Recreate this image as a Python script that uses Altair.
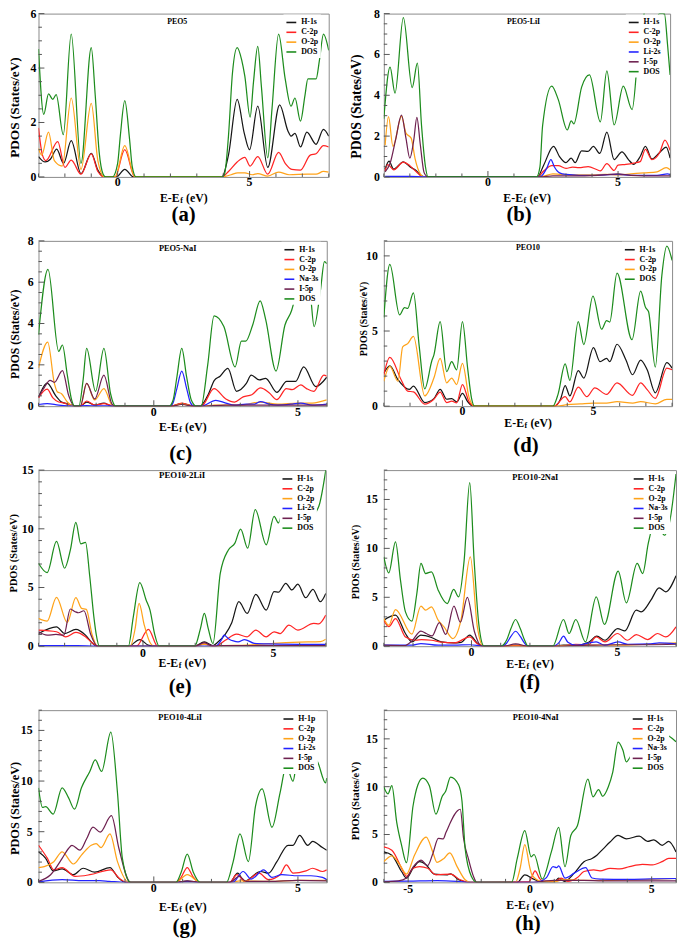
import altair as alt
import pandas as pd

FONT = "Liberation Serif"
COL = {"H-1s": "#161616", "H-1p": "#161616", "C-2p": "#ff2424", "O-2p": "#ffa31a",
       "Li-2s": "#2222ff", "Na-3s": "#2222ff", "I-5p": "#6e2150", "DOS": "#1d8c1d"}

# ---------------- (a) PEO5 ----------------
A_H1S = [(-3.0,0.75),(-2.75,0.55),(-2.55,0.65),(-2.31,1.02),(-2.05,0.5),(-1.76,1.33),(-1.39,0.12),(-1.0,0.87),(-0.75,0.25),(-0.5,0.0),(-0.05,0.0),(0.27,0.28),(0.6,0.0),(3.95,0.0),(4.2,0.8),(4.53,2.85),(4.8,1.6),(5.0,1.0),(5.31,2.6),(5.69,0.35),(6.14,2.65),(6.45,1.7),(6.57,1.5),(6.72,1.6),(6.93,1.1),(7.17,1.65),(7.52,1.2),(7.8,1.75),(8.0,1.5)]
A_C2P = [(-3.0,1.8),(-2.85,0.8),(-2.72,0.6),(-2.27,1.3),(-2.0,0.35),(-1.76,0.62),(-1.39,0.1),(-1.0,0.85),(-0.75,0.2),(-0.5,0.0),(-0.1,0.0),(0.27,1.0),(0.65,0.0),(3.95,0.0),(4.2,0.2),(4.53,0.55),(4.82,0.72),(5.02,0.4),(5.31,0.75),(5.69,0.1),(6.1,0.9),(6.35,0.5),(6.6,0.28),(6.93,0.25),(7.3,0.8),(7.52,0.85),(7.8,1.15),(8.0,1.1)]
A_O2P = [(-3.0,1.05),(-2.88,0.8),(-2.62,1.65),(-2.4,0.6),(-2.1,0.4),(-1.76,2.9),(-1.39,0.28),(-1.0,2.7),(-0.75,0.6),(-0.5,0.0),(-0.1,0.0),(0.27,1.15),(0.65,0.0),(3.95,0.0),(4.3,0.08),(4.55,0.15),(4.82,0.15),(5.1,0.08),(5.31,0.12),(5.69,0.03),(6.1,0.18),(6.5,0.08),(7.2,0.1),(7.52,0.1),(7.8,0.2),(8.0,0.18)]
A_DOS = [(-3.0,4.7),(-2.8,2.3),(-2.62,3.05),(-2.46,2.85),(-2.33,3.02),(-2.06,1.55),(-1.76,5.25),(-1.39,0.5),(-1.0,4.75),(-0.85,3.0),(-0.7,0.9),(-0.55,0.1),(-0.45,0.0),(-0.2,0.0),(0.0,0.5),(0.1,1.5),(0.27,2.8),(0.45,1.4),(0.55,0.4),(0.7,0.0),(3.95,0.0),(4.05,0.1),(4.2,1.5),(4.35,3.8),(4.53,4.75),(4.7,4.3),(4.82,3.7),(5.02,2.2),(5.15,3.5),(5.31,4.8),(5.45,3.3),(5.69,0.7),(5.85,2.5),(6.1,5.25),(6.35,3.6),(6.57,2.6),(6.72,2.9),(6.93,2.05),(7.1,3.0),(7.21,3.6),(7.52,3.6),(7.65,4.3),(7.8,5.25),(8.0,4.65)]

# ---------------- (b) PEO5-LiI ----------------
B_H1S = [(-3.95,0.38),(-3.8,0.77),(-3.62,0.38),(-3.25,0.74),(-3.0,0.5),(-2.75,0.3),(-2.55,0.05),(-2.4,0.0),(1.9,0.0),(2.15,0.6),(2.52,1.5),(2.75,1.0),(3.0,0.7),(3.2,0.92),(3.35,0.7),(3.6,1.28),(3.85,1.25),(4.05,1.5),(4.3,1.15),(4.57,2.2),(4.85,0.85),(5.15,1.23),(5.4,0.85),(5.6,0.62),(5.85,1.0),(6.05,1.5),(6.3,0.88),(6.6,1.2),(6.85,1.46),(7.0,0.92)]
B_C2P = [(-3.95,0.3),(-3.85,0.6),(-3.62,0.35),(-3.25,0.72),(-3.0,0.55),(-2.75,0.25),(-2.55,0.03),(-2.4,0.0),(1.9,0.0),(2.15,0.3),(2.45,0.55),(2.7,0.55),(3.0,0.42),(3.25,0.48),(3.5,0.45),(3.85,0.5),(4.2,0.35),(4.32,0.3),(4.57,0.65),(4.85,0.32),(5.0,0.58),(5.3,0.62),(5.6,0.68),(5.85,0.75),(6.05,1.35),(6.3,0.85),(6.6,1.2),(6.8,1.8),(7.0,1.3)]
B_O2P = [(-3.95,1.55),(-3.82,2.95),(-3.65,1.5),(-3.32,2.97),(-3.15,2.15),(-2.95,1.9),(-2.8,0.9),(-2.6,0.15),(-2.45,0.0),(2.0,0.0),(2.5,0.15),(2.8,0.12),(3.5,0.1),(4.0,0.1),(4.5,0.12),(5.0,0.1),(5.5,0.15),(6.0,0.2),(6.5,0.25),(6.85,0.45),(7.0,0.35)]
B_LI2S = [(-3.95,0.03),(-3.0,0.03),(-2.4,0.0),(2.0,0.0),(2.25,0.4),(2.42,0.85),(2.55,0.5),(2.75,0.2),(3.0,0.12),(3.5,0.08),(4.0,0.08),(4.5,0.1),(5.0,0.12),(5.5,0.08),(6.0,0.08),(6.5,0.08),(6.9,0.15),(7.0,0.12)]
B_I5P = [(-3.95,0.25),(-3.75,0.7),(-3.55,1.8),(-3.32,3.03),(-3.15,1.9),(-3.0,0.92),(-2.85,1.8),(-2.73,2.92),(-2.6,1.6),(-2.45,0.2),(-2.3,0.0),(2.0,0.0),(2.5,0.05),(3.5,0.05),(4.5,0.1),(5.0,0.15),(5.5,0.08),(6.5,0.05),(7.0,0.05)]
B_DOS = [(-4.0,2.85),(-3.76,5.38),(-3.57,4.1),(-3.25,7.8),(-2.91,4.38),(-2.71,5.57),(-2.55,2.5),(-2.4,0.5),(-2.3,0.0),(1.87,0.0),(2.0,0.5),(2.1,2.5),(2.45,4.45),(2.7,3.8),(3.05,2.3),(3.2,2.75),(3.3,2.6),(3.6,4.4),(3.9,5.0),(4.32,2.7),(4.57,5.2),(4.85,2.55),(5.2,4.45),(5.54,3.3),(5.8,6.5),(6.0,8.2),(6.15,6.5),(6.27,5.1),(6.45,7.5),(6.6,8.8),(6.78,8.1),(6.9,6.5),(7.0,5.0)]

# ---------------- (c) PEO5-NaI ----------------
C_H1S = [(-4.0,0.42),(-3.7,1.12),(-3.4,0.5),(-3.2,0.2),(-2.9,0.08),(-2.75,0.0),(-2.55,0.0),(-2.33,0.2),(-2.05,0.05),(-1.73,0.15),(-1.5,0.02),(-1.32,0.0),(0.6,0.0),(0.97,0.12),(1.4,0.0),(1.6,0.0),(1.9,0.6),(2.1,1.25),(2.3,1.45),(2.57,1.83),(2.87,0.72),(3.21,1.1),(3.38,1.5),(3.66,1.27),(3.88,1.35),(4.27,0.67),(4.61,1.2),(4.92,1.2),(5.2,1.9),(5.62,0.95),(6.0,1.4)]
C_C2P = [(-4.0,0.4),(-3.7,0.82),(-3.5,0.4),(-3.3,0.2),(-3.1,0.15),(-2.9,0.05),(-2.75,0.0),(-2.55,0.0),(-2.33,0.25),(-2.05,0.05),(-1.73,0.12),(-1.35,0.0),(0.6,0.0),(0.97,0.15),(1.4,0.0),(1.65,0.0),(2.09,0.85),(2.5,0.35),(2.8,0.2),(3.1,0.45),(3.4,0.55),(3.7,0.88),(4.0,0.65),(4.27,0.32),(4.6,0.85),(4.8,0.8),(5.1,1.03),(5.3,0.85),(5.55,0.72),(5.9,1.5),(6.0,1.45)]
C_O2P = [(-4.0,1.85),(-3.68,3.1),(-3.45,1.1),(-3.35,0.7),(-3.2,0.6),(-3.0,0.2),(-2.75,0.0),(-2.55,0.0),(-2.33,1.1),(-2.05,0.3),(-1.73,0.85),(-1.45,0.05),(-1.32,0.0),(0.6,0.0),(0.97,0.1),(1.4,0.0),(1.65,0.0),(2.1,0.05),(2.5,0.05),(3.0,0.05),(3.7,0.2),(4.3,0.1),(5.0,0.15),(5.5,0.15),(6.0,0.3)]
C_NA3S = [(-4.0,0.08),(-3.7,0.12),(-3.3,0.05),(-2.75,0.0),(-2.33,0.03),(-2.0,0.01),(-1.73,0.02),(-1.32,0.0),(0.55,0.0),(0.67,0.17),(0.8,0.85),(0.97,1.7),(1.14,0.85),(1.27,0.17),(1.4,0.0),(1.65,0.0),(2.15,0.28),(2.5,0.15),(2.8,0.05),(3.2,0.1),(3.5,0.1),(3.7,0.22),(4.0,0.1),(4.3,0.05),(4.8,0.1),(5.1,0.15),(5.5,0.05),(6.0,0.1)]
C_I5P = [(-4.0,0.45),(-3.8,0.9),(-3.6,1.25),(-3.45,1.15),(-3.17,1.72),(-2.95,0.5),(-2.75,0.0),(-2.55,0.0),(-2.33,1.1),(-2.05,0.35),(-1.73,1.5),(-1.45,0.1),(-1.32,0.0),(0.6,0.0),(0.97,0.08),(1.4,0.0),(1.65,0.0),(2.5,0.05),(4.0,0.05),(6.0,0.05)]
C_DOS = [(-4.0,3.46),(-3.67,6.62),(-3.3,2.65),(-3.17,2.96),(-3.0,1.5),(-2.85,0.3),(-2.75,0.0),(-2.6,0.0),(-2.45,1.3),(-2.33,2.8),(-2.02,0.72),(-1.73,2.8),(-1.5,0.6),(-1.32,0.0),(0.53,0.0),(0.67,0.3),(0.8,1.4),(0.97,2.8),(1.14,1.4),(1.3,0.3),(1.48,0.0),(1.64,0.0),(1.87,2.0),(2.09,4.37),(2.43,3.85),(2.82,1.9),(3.04,3.15),(3.19,3.15),(3.43,3.93),(3.69,5.1),(3.88,4.2),(4.24,1.7),(4.55,3.93),(4.78,4.63),(4.94,5.5),(5.15,7.0),(5.3,7.3),(5.45,5.2),(5.56,3.85),(5.78,5.6),(5.92,7.0),(6.0,6.9)]

# ---------------- (d) PEO10 ----------------
D_H1S = [(-3.0,2.2),(-2.77,2.68),(-2.46,1.76),(-2.03,1.11),(-1.87,1.33),(-1.44,0.24),(-1.09,0.5),(-0.85,1.11),(-0.6,0.46),(-0.41,0.5),(-0.22,0.28),(0.0,0.85),(0.2,0.3),(0.4,0.0),(3.51,0.0),(3.75,0.5),(3.92,1.37),(4.1,0.68),(4.42,2.37),(4.63,1.87),(5.0,3.9),(5.25,2.96),(5.5,3.18),(5.62,2.96),(5.9,4.12),(6.24,3.07),(6.49,2.09),(6.8,3.07),(7.05,2.42),(7.36,0.89),(7.8,2.9),(8.0,2.53)]
D_C2P = [(-3.0,2.1),(-2.77,3.25),(-2.34,1.76),(-2.09,1.0),(-1.87,0.95),(-1.44,0.13),(-1.09,0.46),(-0.85,0.94),(-0.6,0.24),(-0.41,0.33),(-0.22,0.22),(0.0,1.44),(0.25,0.3),(0.46,0.0),(3.5,0.0),(3.92,0.63),(4.1,0.28),(4.42,1.26),(4.75,0.63),(5.05,1.22),(5.5,0.78),(5.9,1.55),(6.49,0.72),(6.8,1.55),(7.05,1.1),(7.36,0.52),(7.8,2.53),(8.0,2.42)]
D_O2P = [(-3.0,1.66),(-2.77,2.64),(-2.46,1.66),(-2.28,3.94),(-2.09,4.16),(-1.87,4.64),(-1.44,0.68),(-1.09,1.87),(-0.85,3.18),(-0.6,1.55),(-0.41,1.87),(-0.22,1.44),(0.0,2.85),(0.25,0.6),(0.46,0.0),(3.6,0.0),(4.0,0.1),(4.5,0.15),(5.0,0.2),(5.5,0.2),(5.9,0.3),(6.5,0.2),(6.8,0.3),(7.36,0.15),(7.8,0.45),(8.0,0.45)]
D_DOS = [(-3.0,5.9),(-2.77,9.43),(-2.4,6.08),(-2.21,6.56),(-2.09,6.5),(-1.87,7.54),(-1.65,4.0),(-1.44,1.15),(-1.16,3.07),(-1.09,3.4),(-0.85,5.62),(-0.6,2.3),(-0.41,2.96),(-0.22,2.42),(0.0,5.62),(0.2,2.5),(0.35,0.5),(0.46,0.0),(3.45,0.0),(3.65,0.8),(3.92,2.81),(4.1,1.72),(4.42,5.62),(4.63,4.1),(4.98,7.32),(5.31,5.12),(5.5,5.69),(5.62,5.6),(5.9,8.85),(6.47,4.42),(6.8,7.65),(6.99,6.56),(7.1,6.3),(7.36,2.6),(7.61,8.7),(7.8,10.65),(8.0,9.7)]

# ---------------- (e) PEO10-2LiI ----------------
E_H1S = [(-4.0,1.08),(-3.31,1.65),(-3.0,1.08),(-2.57,1.43),(-2.2,0.94),(-1.95,0.3),(-1.79,0.0),(-0.56,0.0),(-0.12,0.57),(0.19,0.1),(0.43,0.0),(1.98,0.0),(2.35,0.37),(2.68,0.05),(2.84,0.3),(3.15,1.0),(3.4,2.0),(3.67,3.79),(3.99,2.79),(4.32,4.42),(4.72,3.08),(5.02,4.65),(5.19,4.6),(5.47,5.36),(5.7,4.79),(5.93,5.28),(6.23,4.13),(6.51,4.85),(6.79,3.79),(7.0,4.5)]
E_C2P = [(-4.0,1.37),(-3.31,1.23),(-2.96,0.8),(-2.57,1.17),(-2.2,0.8),(-1.95,0.3),(-1.74,0.0),(-0.25,0.0),(0.21,1.43),(0.56,0.0),(1.98,0.0),(2.35,0.2),(2.68,0.0),(2.78,0.0),(3.15,0.5),(3.58,1.03),(3.99,0.8),(4.32,1.37),(4.72,0.8),(5.02,1.23),(5.25,1.08),(5.59,1.8),(5.93,1.37),(6.54,1.94),(6.73,1.9),(7.0,2.65)]
E_O2P = [(-4.0,2.37),(-3.67,2.14),(-3.31,4.16),(-2.9,2.02),(-2.57,4.13),(-2.35,3.22),(-2.17,3.14),(-1.95,1.0),(-1.74,0.0),(-0.49,0.0),(-0.3,1.5),(-0.15,3.65),(0.05,1.8),(0.25,0.4),(0.43,0.0),(1.98,0.0),(2.35,0.15),(2.68,0.0),(3.0,0.05),(4.0,0.1),(5.0,0.25),(6.0,0.35),(6.8,0.4),(7.0,0.6)]
E_LI2S = [(-4.0,0.05),(-2.5,0.05),(-1.79,0.0),(2.78,0.0),(3.02,0.6),(3.1,0.94),(3.3,0.6),(3.46,0.45),(3.64,0.37),(3.89,0.57),(4.26,0.25),(4.8,0.2),(7.0,0.15)]
E_I5P = [(-4.0,1.23),(-3.67,0.94),(-3.33,1.0),(-3.03,0.94),(-2.78,3.17),(-2.6,2.94),(-2.47,2.85),(-2.26,3.02),(-2.0,1.0),(-1.74,0.0),(1.98,0.0),(2.35,0.3),(2.68,0.0),(3.0,0.05),(7.0,0.05)]
E_DOS = [(-4.0,7.07),(-3.67,6.27),(-3.31,8.92),(-3.0,6.64),(-2.78,8.2),(-2.57,10.55),(-2.38,8.72),(-2.2,8.84),(-2.04,6.0),(-1.88,2.5),(-1.79,1.0),(-1.67,0.0),(-0.56,0.0),(-0.37,2.5),(-0.12,5.42),(0.12,3.94),(0.27,3.08),(0.45,1.0),(0.62,0.0),(1.98,0.0),(2.2,1.5),(2.35,2.79),(2.5,1.5),(2.68,0.23),(2.96,6.2),(3.27,8.2),(3.52,8.78),(3.74,9.98),(4.01,8.35),(4.3,11.63),(4.72,8.64),(5.02,11.06),(5.19,10.5),(5.28,11.0),(5.6,12.0),(6.0,11.5),(6.4,11.0),(6.73,11.9),(7.0,15.0)]

# ---------------- (f) PEO10-2NaI ----------------
F_H1S = [(-3.0,2.66),(-2.6,3.17),(-2.26,1.3),(-2.04,0.44),(-1.73,1.13),(-1.37,0.89),(-1.03,0.44),(-0.61,0.34),(-0.35,0.4),(-0.06,1.13),(0.2,0.3),(0.43,0.0),(1.1,0.0),(1.51,0.1),(1.94,0.0),(2.78,0.0),(3.15,0.1),(3.57,0.1),(4.01,0.4),(4.29,1.02),(4.57,0.61),(5.0,1.8),(5.25,1.57),(5.64,3.68),(5.81,3.51),(6.14,4.7),(6.42,5.97),(6.65,5.56),(7.0,7.2)]
F_C2P = [(-3.0,2.66),(-2.83,2.0),(-2.6,2.83),(-2.26,0.95),(-1.9,0.61),(-1.71,0.68),(-1.37,0.61),(-1.03,0.41),(-0.58,0.34),(-0.06,0.95),(0.2,0.25),(0.43,0.0),(1.1,0.0),(1.51,0.05),(1.94,0.0),(2.78,0.0),(3.15,0.05),(3.57,0.2),(4.0,0.15),(4.27,0.95),(4.57,0.44),(5.0,1.3),(5.34,0.61),(5.64,1.19),(6.03,0.68),(6.37,1.3),(6.65,0.95),(7.0,1.98)]
F_O2P = [(-3.0,2.83),(-2.83,2.15),(-2.6,3.75),(-2.04,1.23),(-1.73,4.09),(-1.57,3.68),(-1.37,4.02),(-1.14,2.66),(-0.94,1.98),(-0.64,0.78),(-0.36,2.66),(-0.04,9.14),(0.2,2.0),(0.4,0.0),(2.78,0.0),(3.0,0.05),(4.3,0.1),(5.0,0.1),(6.0,0.2),(6.5,0.25),(7.0,0.35)]
F_NA3S = [(-3.0,0.1),(-2.04,0.1),(-1.73,0.27),(-1.14,0.1),(-0.58,0.1),(-0.06,0.15),(0.43,0.0),(1.04,0.0),(1.2,0.3),(1.35,1.0),(1.51,1.53),(1.67,1.0),(1.82,0.3),(1.94,0.0),(2.78,0.0),(3.0,0.4),(3.15,1.02),(3.3,0.4),(3.57,0.1),(4.27,0.44),(4.55,0.1),(5.02,0.44),(5.35,0.2),(6.14,0.25),(6.42,0.35),(7.0,0.25)]
F_I5P = [(-3.0,0.1),(-2.3,0.05),(-2.05,0.5),(-1.73,1.55),(-1.55,1.3),(-1.35,1.05),(-1.1,2.42),(-0.88,1.2),(-0.6,4.1),(-0.38,2.45),(-0.14,4.98),(0.1,1.5),(0.35,0.0),(1.1,0.0),(1.51,0.25),(1.94,0.0),(2.78,0.0),(4.0,0.1),(5.0,0.15),(6.0,0.15),(7.0,0.2)]
F_DOS = [(-3.0,9.14),(-2.83,7.5),(-2.6,10.67),(-2.43,6.75),(-2.26,3.51),(-2.04,2.56),(-1.87,5.39),(-1.73,8.46),(-1.57,7.43),(-1.37,7.6),(-1.14,5.73),(-0.83,4.36),(-0.61,5.8),(-0.44,5.05),(-0.25,8.8),(-0.06,16.71),(0.09,8.8),(0.26,2.0),(0.43,0.0),(0.99,0.0),(1.2,0.6),(1.35,1.8),(1.51,2.73),(1.67,1.8),(1.82,0.6),(1.94,0.0),(2.78,0.0),(3.15,2.73),(3.34,1.3),(3.57,2.73),(3.9,0.44),(4.27,5.05),(4.55,2.22),(5.02,7.67),(5.3,4.43),(5.67,8.46),(5.86,7.43),(6.05,10.5),(6.3,12.9),(6.6,11.35),(6.8,13.0),(7.0,17.6)]

# ---------------- (g) PEO10-4LiI ----------------
G_H1P = [(-4.0,3.01),(-3.75,2.36),(-3.49,1.13),(-3.18,1.33),(-2.79,0.75),(-2.45,1.39),(-2.05,1.0),(-1.52,1.46),(-1.25,0.5),(-0.98,0.0),(0.77,0.0),(1.16,0.13),(1.61,0.0),(2.63,0.0),(2.91,0.91),(3.14,0.1),(3.7,1.07),(3.98,0.9),(4.27,2.04),(4.66,3.66),(4.83,3.66),(5.06,4.63),(5.34,3.66),(5.51,4.05),(5.85,3.43),(6.0,3.17)]
G_C2P = [(-4.0,3.66),(-3.69,2.36),(-3.47,1.23),(-3.18,1.46),(-2.73,0.58),(-2.22,0.75),(-1.49,1.23),(-1.2,0.4),(-0.93,0.0),(0.77,0.0),(0.95,0.5),(1.16,1.46),(1.37,0.5),(1.61,0.0),(2.63,0.0),(2.88,0.75),(3.17,0.1),(3.65,0.9),(3.98,0.26),(4.38,0.75),(4.6,1.72),(4.83,0.9),(5.28,1.13),(5.51,1.39),(5.85,1.07),(6.0,1.23)]
G_O2P = [(-4.0,1.46),(-3.8,1.55),(-3.47,2.04),(-3.18,3.01),(-2.79,1.81),(-2.51,2.69),(-2.17,3.66),(-2.0,3.82),(-1.83,3.43),(-1.52,4.79),(-1.26,2.04),(-0.87,0.0),(0.77,0.0),(1.16,0.75),(1.61,0.0),(2.63,0.0),(3.0,0.15),(4.0,0.1),(5.0,0.2),(6.0,0.2)]
G_LI2S = [(-4.0,0.05),(-3.18,0.26),(-2.45,0.16),(-1.88,0.16),(-1.55,0.1),(-0.98,0.0),(0.77,0.0),(1.16,0.05),(1.61,0.0),(2.74,0.0),(3.1,1.07),(3.38,0.32),(3.81,1.23),(4.1,0.5),(4.44,0.75),(5.0,0.65),(5.45,0.65),(5.85,0.49),(6.0,0.26)]
G_I5P = [(-4.0,0.1),(-3.58,0.75),(-3.18,2.36),(-2.96,3.34),(-2.84,3.66),(-2.56,3.17),(-2.33,4.3),(-2.11,5.44),(-1.86,4.96),(-1.47,6.58),(-1.21,3.34),(-0.81,0.0),(0.77,0.0),(1.16,0.15),(1.61,0.0),(2.63,0.0),(2.97,0.6),(3.2,0.1),(4.0,0.1),(5.0,0.2),(6.0,0.15)]
G_DOS = [(-4.0,9.33),(-3.86,7.39),(-3.75,7.48),(-3.49,6.74),(-3.18,9.33),(-2.96,8.36),(-2.75,7.22),(-2.51,9.33),(-2.22,10.95),(-2.03,12.08),(-1.81,10.95),(-1.49,14.84),(-1.26,8.84),(-1.09,2.36),(-0.81,0.0),(0.77,0.0),(0.95,1.0),(1.16,2.79),(1.37,1.0),(1.61,0.0),(2.52,0.0),(2.75,2.0),(2.99,4.79),(3.28,2.04),(3.53,7.55),(3.76,9.23),(4.1,5.44),(4.38,8.84),(4.6,11.5),(4.83,9.98),(4.94,11.6),(5.2,13.5),(5.5,12.5),(5.68,11.9),(5.96,9.82),(6.0,10.3)]

# ---------------- (h) PEO10-4NaI ----------------
H_H1S = [(-6.0,3.18),(-5.67,2.84),(-5.27,1.13),(-5.07,0.45),(-4.8,1.47),(-4.53,2.16),(-4.26,1.82),(-3.93,0.86),(-3.39,0.79),(-3.26,0.89),(-2.93,0.27),(-2.46,0.0),(-0.52,0.0),(-0.21,0.79),(0.15,0.34),(0.48,0.05),(1.02,0.05),(1.18,0.45),(1.42,0.1),(1.82,0.96),(2.22,2.16),(2.55,2.5),(2.75,2.84),(3.02,3.53),(3.29,4.21),(3.62,4.9),(3.96,4.55),(4.49,4.83),(4.83,4.28),(5.09,4.45),(5.43,3.87),(5.7,4.28),(6.0,3.18)]
H_C2P = [(-6.0,3.7),(-5.67,3.36),(-5.2,1.13),(-5.07,0.62),(-4.8,1.47),(-4.53,1.64),(-4.2,1.47),(-3.86,0.79),(-3.26,0.86),(-2.86,0.27),(-2.46,0.0),(-0.05,0.05),(0.05,0.4),(0.21,1.2),(0.4,0.4),(0.55,0.1),(1.02,0.1),(1.28,0.45),(1.55,0.1),(1.95,0.5),(2.22,1.13),(2.62,1.3),(2.88,1.2),(3.29,1.47),(3.69,1.4),(4.09,1.64),(4.62,1.88),(5.03,1.82),(5.43,2.16),(5.7,2.5),(6.0,2.5)]
H_O2P = [(-6.0,2.16),(-5.67,2.77),(-5.34,1.82),(-5.07,0.86),(-4.74,2.84),(-4.26,4.73),(-3.99,3.18),(-3.82,2.09),(-3.53,2.5),(-3.29,3.08),(-2.99,1.64),(-2.66,0.27),(-2.46,0.0),(-0.59,0.0),(-0.4,1.5),(-0.21,3.94),(0.0,1.5),(0.08,0.79),(0.48,0.1),(1.0,0.05),(1.4,0.3),(2.0,0.2),(3.0,0.2),(4.0,0.25),(5.0,0.3),(6.0,0.4)]
H_NA3S = [(-6.0,0.1),(-5.0,0.12),(-3.8,0.17),(-3.0,0.1),(-2.46,0.0),(0.21,0.0),(0.35,0.05),(0.68,0.5),(0.95,1.64),(1.1,1.54),(1.18,1.71),(1.44,0.45),(1.82,0.96),(2.29,1.54),(2.55,0.45),(2.89,0.34),(4.0,0.3),(5.0,0.35),(6.0,0.4)]
H_I5P = [(-6.0,0.05),(-5.4,0.15),(-5.07,0.45),(-4.8,1.6),(-4.47,2.33),(-4.2,1.75),(-4.0,2.9),(-3.76,4.6),(-3.56,4.55),(-3.45,5.2),(-2.86,7.64),(-2.72,4.5),(-2.53,2.5),(-2.3,0.5),(-2.19,0.0),(0.0,0.0),(0.5,0.1),(1.0,0.2),(2.2,0.2),(3.0,0.15),(4.0,0.15),(6.0,0.15)]
H_DOS = [(-6.0,9.97),(-5.83,9.25),(-5.67,10.1),(-5.47,6.27),(-5.27,3.87),(-5.07,2.05),(-4.8,7.98),(-4.6,10.2),(-4.4,10.9),(-4.13,10.1),(-3.86,7.12),(-3.6,9.0),(-3.46,9.52),(-3.26,11.0),(-2.93,10.2),(-2.79,8.5),(-2.66,3.53),(-2.4,0.6),(-2.19,0.0),(-0.75,0.0),(-0.52,2.5),(-0.21,5.41),(0.05,2.67),(0.17,2.91),(0.51,0.34),(0.88,3.18),(1.18,5.75),(1.44,1.64),(1.68,4.9),(1.95,5.92),(2.38,10.79),(2.59,8.94),(2.82,9.69),(2.99,9.0),(3.22,10.0),(3.4,11.5),(3.62,14.66),(3.82,13.8),(3.96,12.6),(4.2,13.3),(4.5,12.8),(4.76,12.4),(5.1,13.5),(5.5,15.5),(6.0,14.7)]

# axis tick labels
X_LAB_AG = [0, 5]
X_LAB_H = [-5, 0, 5]
Y_LAB_ABC = [0, 2, 4, 6, 8]
Y_LAB_D = [0, 5, 10]
Y_LAB_EFGH = [0, 5, 10, 15]


def steps(a, b, step, skip):
    out, v = [], a
    while v <= b + 1e-9:
        r = round(v, 6)
        if all(abs(r - s) > 1e-6 for s in skip):
            out.append(r)
        v += step
    return out


def txt(t, x, y, size, angle=0, align="center"):
    return alt.Chart(pd.DataFrame({"t": [t]})).mark_text(
        font=FONT, fontWeight="bold", fontSize=size, angle=angle, align=align,
        baseline="middle", color="black").encode(text="t:N", x=alt.value(x), y=alt.value(y))


def panel(P):
    W, H = P["W"], P["H"]
    names = [n for n, _ in P["series"]]
    df = pd.DataFrame([{"x": x, "y": y, "s": n} for n, pts in P["series"] for (x, y) in pts])
    xs = alt.Scale(domain=P["xdom"], nice=False, zero=False)
    ys = alt.Scale(domain=P["ydom"], nice=False, zero=False, clamp=True)
    xmaj = [v for v in P["xlab"] if P["xdom"][0] <= v <= P["xdom"][1]]
    ymaj = [v for v in P["ylab"] if P["ydom"][0] <= v <= P["ydom"][1]]
    lines = alt.Chart(df).mark_line(clip=True, interpolate="monotone", strokeWidth=1.25).encode(
        x=alt.X("x:Q", scale=xs, axis=None),
        y=alt.Y("y:Q", scale=ys, axis=None),
        color=alt.Color("s:N", scale=alt.Scale(domain=names, range=[COL[n] for n in names]),
                        legend=alt.Legend(title=None, orient="none", legendX=W - P["lgx"] - 2,
                                          legendY=1, direction="vertical", symbolType="stroke",
                                          symbolSize=100, symbolStrokeWidth=1.6, labelFont=FONT,
                                          labelFontWeight="bold", labelFontSize=8, labelColor="black",
                                          labelOffset=4, rowPadding=0, padding=2, fillColor="white")))

    def tx(vals, L):
        return alt.Chart(pd.DataFrame({"v": vals})).mark_rule(color="#555555", strokeWidth=1).encode(
            x=alt.X("v:Q", scale=xs, axis=None), y=alt.value(H), y2=alt.value(H - L))

    def ty(vals, L):
        return alt.Chart(pd.DataFrame({"v": vals})).mark_rule(color="#555555", strokeWidth=1).encode(
            y=alt.Y("v:Q", scale=ys, axis=None), x=alt.value(0), x2=alt.value(L))

    xlabels = alt.Chart(pd.DataFrame({"v": xmaj, "t": [str(v) for v in xmaj]})).mark_text(
        font=FONT, fontWeight="bold", fontSize=12, baseline="top", align="center", color="black").encode(
        x=alt.X("v:Q", scale=xs, axis=None), y=alt.value(H + P["xlp"]), text="t:N")
    ylabels = alt.Chart(pd.DataFrame({"v": ymaj, "t": [str(v) for v in ymaj]})).mark_text(
        font=FONT, fontWeight="bold", fontSize=12, baseline="middle", align="right", color="black").encode(
        y=alt.Y("v:Q", scale=ys, axis=None), x=alt.value(-P["ylp"]), text="t:N")

    xmin = steps(P["xdom"][0], P["xdom"][1], 1, xmaj)
    ymin = steps(P["ydom"][0], P["ydom"][1], P["ystep"], ymaj)
    c = W / 2
    layers = [lines, tx(xmaj, 6), tx(xmin, 3.5), ty(ymaj, 6), ty(ymin, 3.5), xlabels, ylabels,
              txt(P["name"], c + P["ndx"], P["ny"], P["nfs"]),
              txt("E-E", c - 4, H + P["xty"], 12, align="right"),
              txt("f", c - 3.5, H + P["xty"] + 3, 8, align="left"),
              txt("(eV)", c + 2.5, H + P["xty"], 12, align="left"),
              txt("PDOS (States/eV)", P["ytx"], P["yty"], P["yfs"], angle=270),
              txt(P["tag"], c + P["tdx"], H + P["tdy"], 21)]
    return alt.layer(*layers).properties(width=W, height=H)


def S(*pairs):
    return list(pairs)

# row heights / column-1 widths chosen so that a flow grid reproduces the figure layout
pa = panel(dict(W=295, H=166, xdom=[-3, 8], ydom=[0, 6], xlab=X_LAB_AG, ylab=Y_LAB_ABC, ystep=0.5,
                xlp=0, ylp=2, lgx=44, name="PEO5", ndx=-6.5, ny=9, nfs=8,
                xty=21, ytx=-23.5, yty=95.5, yfs=13.5, tag="(a)", tdx=0, tdy=39,
                series=S(("H-1s", A_H1S), ("C-2p", A_C2P), ("O-2p", A_O2P), ("DOS", A_DOS))))
pb = panel(dict(W=291, H=166, xdom=[-4, 7], ydom=[0, 8], xlab=X_LAB_AG, ylab=Y_LAB_ABC, ystep=0.5,
                xlp=0, ylp=4, lgx=43, name="PEO5-LiI", ndx=-3.5, ny=9, nfs=8,
                xty=21, ytx=-27, yty=94.5, yfs=14, tag="(b)", tdx=-8, tdy=39,
                series=S(("H-1s", B_H1S), ("C-2p", B_C2P), ("O-2p", B_O2P), ("Li-2s", B_LI2S),
                         ("I-5p", B_I5P), ("DOS", B_DOS))))
pc = panel(dict(W=293, H=168, xdom=[-4, 6], ydom=[0, 8], xlab=X_LAB_AG, ylab=Y_LAB_ABC, ystep=0.5,
                xlp=0.7, ylp=5, lgx=44, name="PEO5-NaI", ndx=-5, ny=7.3, nfs=8.5,
                xty=21, ytx=-24, yty=95, yfs=12, tag="(c)", tdx=-2, tdy=49,
                series=S(("H-1s", C_H1S), ("C-2p", C_C2P), ("O-2p", C_O2P), ("Na-3s", C_NA3S),
                         ("I-5p", C_I5P), ("DOS", C_DOS))))
pd_ = panel(dict(W=293, H=168, xdom=[-3, 8], ydom=[0, 11], xlab=X_LAB_AG, ylab=Y_LAB_D, ystep=1,
                 xlp=0, ylp=6, lgx=49, name="PEO10", ndx=0, ny=7.3, nfs=8,
                 xty=17, ytx=-20, yty=79.3, yfs=10, tag="(d)", tdx=-2, tdy=41,
                 series=S(("H-1s", D_H1S), ("C-2p", D_C2P), ("O-2p", D_O2P), ("DOS", D_DOS))))
pe = panel(dict(W=292, H=179, xdom=[-4, 7], ydom=[0, 15], xlab=X_LAB_AG, ylab=Y_LAB_EFGH, ystep=1,
                xlp=1.7, ylp=5, lgx=45, name="PEO10-2LiI", ndx=0, ny=5.5, nfs=9,
                xty=17, ytx=-25, yty=84.5, yfs=10.5, tag="(e)", tdx=-2, tdy=42,
                series=S(("H-1s", E_H1S), ("C-2p", E_C2P), ("O-2p", E_O2P), ("Li-2s", E_LI2S),
                         ("I-5p", E_I5P), ("DOS", E_DOS))))
pf = panel(dict(W=297, H=179, xdom=[-3, 7], ydom=[0, 18], xlab=X_LAB_AG, ylab=Y_LAB_EFGH, ystep=1,
                xlp=1.4, ylp=6, lgx=44, name="PEO10-2NaI", ndx=5.5, ny=7.3, nfs=8.5,
                xty=18, ytx=-28, yty=93.5, yfs=10, tag="(f)", tdx=0, tdy=38,
                series=S(("H-1s", F_H1S), ("C-2p", F_C2P), ("O-2p", F_O2P), ("Na-3s", F_NA3S),
                         ("I-5p", F_I5P), ("DOS", F_DOS))))
pg = panel(dict(W=293, H=175, xdom=[-4, 6], ydom=[0, 17], xlab=X_LAB_AG, ylab=Y_LAB_EFGH, ystep=1,
                xlp=1.1, ylp=6, lgx=45, name="PEO10-4LiI", ndx=-2.5, ny=7.3, nfs=8.5,
                xty=25, ytx=-23.75, yty=99.9, yfs=12.5, tag="(g)", tdx=2, tdy=45,
                series=S(("H-1p", G_H1P), ("C-2p", G_C2P), ("O-2p", G_O2P), ("Li-2s", G_LI2S),
                         ("I-5p", G_I5P), ("DOS", G_DOS))))
ph = panel(dict(W=297, H=175, xdom=[-6, 6], ydom=[0, 18], xlab=X_LAB_H, ylab=Y_LAB_EFGH, ystep=1,
                xlp=1.4, ylp=6, lgx=45, name="PEO10-4NaI", ndx=6, ny=7.3, nfs=8.5,
                xty=23, ytx=-28.5, yty=92.4, yfs=10.5, tag="(h)", tdx=-2, tdy=42,
                series=S(("H-1s", H_H1S), ("C-2p", H_C2P), ("O-2p", H_O2P), ("Na-3s", H_NA3S),
                         ("I-5p", H_I5P), ("DOS", H_DOS))))

chart = (alt.concat(pa, pb, pc, pd_, pe, pf, pg, ph, columns=2, align="none", bounds="flush",
                    spacing={"row": 65, "column": 56})
         .resolve_scale(color="independent")
         .properties(padding={"left": 0, "top": -9, "right": 0, "bottom": 0}, background="white")
         .configure_view(stroke="#8a8a8a", strokeWidth=1))

chart.save("out.html", embed_options={"renderer": "svg", "actions": False})
